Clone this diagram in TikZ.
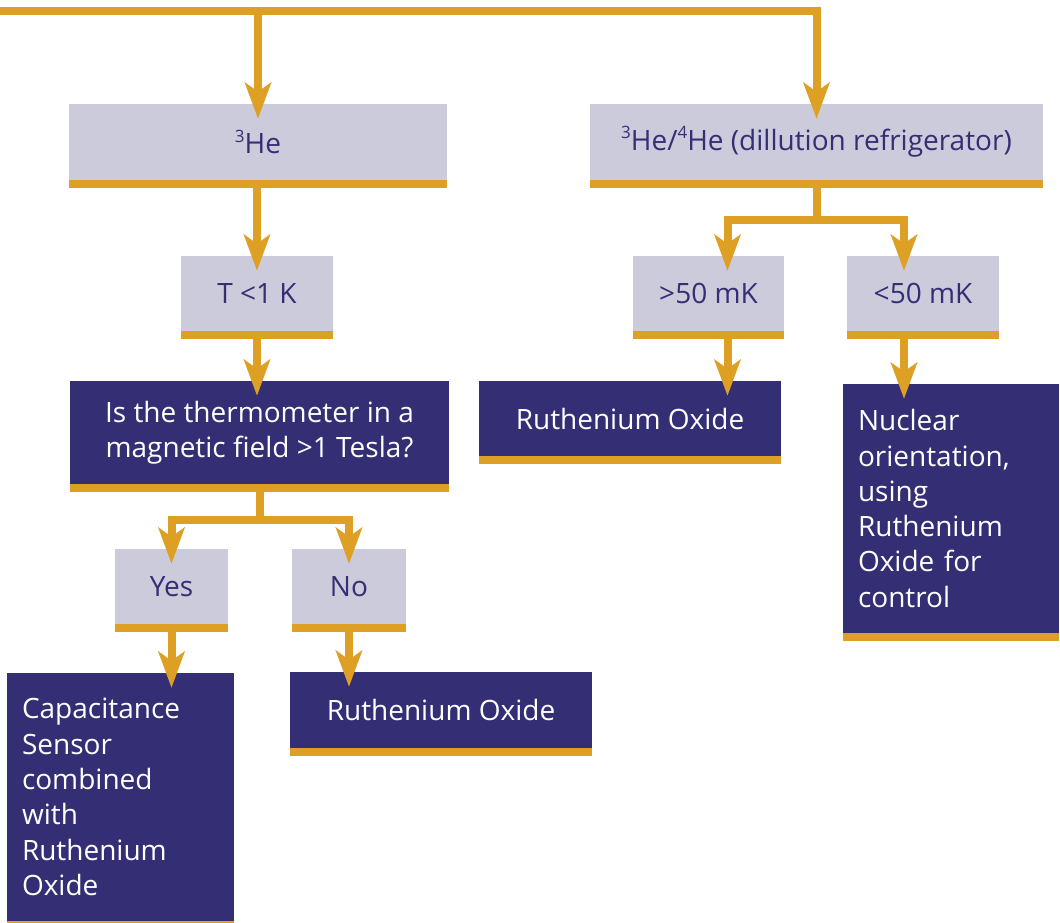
\documentclass[tikz,border=0pt]{standalone}
\usepackage{fontspec}
\setmainfont{Open Sans}
\usetikzlibrary{arrows.meta}
\usetikzlibrary{positioning}
\definecolor{gold}{RGB}{221,160,36}
\definecolor{pale}{RGB}{204,203,220}
\definecolor{ink}{RGB}{52,46,116}
\newcommand{\iso}[1]{\raisebox{0.42em}{\fontsize{17}{17}\selectfont #1}}

\tikzset{
  goldbar/.style={draw=gold, line width=8pt, transform canvas={yshift=-4pt}},
  boxbase/.style={inner sep=0pt, font=\fontsize{28}{35.3}\selectfont, align=center,
    append after command={(\tikzlastnode.south west) edge[goldbar] (\tikzlastnode.south east)}},
  palebox/.style={boxbase, fill=pale, text=ink},
  darkbox/.style={boxbase, fill=ink, text=white},
  wire/.style={draw=gold, line width=8pt},
  flow/.style={wire, -{Stealth[length=36pt,width=26pt,inset=9pt]}, shorten >=-15pt},
}

\begin{document}
\begin{tikzpicture}[x=1pt,y=1pt,yscale=-1,xscale=1]
\useasboundingbox (0,0) rectangle (1060,923);

% Text Node
\node[palebox, minimum width=378pt, minimum height=76pt] (he3) at (258,142) {\iso{3}He};
% Text Node
\node[palebox, minimum width=453pt, minimum height=76pt] (dil) at (816.5,142) {\iso{3}He/\iso{4}He (dillution refrigerator)};
% Text Node
\node[palebox, minimum width=152pt, minimum height=75pt] (tk) at (257,293.5) {T <1 K};
% Text Node
\node[palebox, minimum width=151pt, minimum height=75pt] (gt) at (708.5,293.5) {>50 mK};
% Text Node
\node[palebox, minimum width=152pt, minimum height=75pt] (lt) at (923,293.5) {<50 mK};
% Text Node
\node[darkbox, minimum width=379pt, minimum height=103pt] (quest) at (259.5,432.5) {Is the thermometer in a\\magnetic field >1 Tesla?};
% Text Node
\node[darkbox, minimum width=302pt, minimum height=75pt] (ruR) at (630,418.5) {Ruthenium Oxide};
% Text Node
\node[darkbox, text width=186pt, minimum height=249pt, inner xsep=15pt, align=left] (nuc) at (951,508.5) {Nuclear\\orientation,\\using\\Ruthenium\\Oxide for\\control};
% Text Node
\node[palebox, minimum width=113pt, minimum height=75pt] (yes) at (171.5,586.5) {Yes};
% Text Node
\node[palebox, minimum width=114pt, minimum height=75pt] (no) at (349,586.5) {No};
% Text Node
\node[darkbox, text width=197pt, minimum height=248pt, inner xsep=15pt, align=left] (cap) at (120.5,797) {Capacitance\\Sensor\\combined\\with\\Ruthenium\\Oxide};
% Text Node
\node[darkbox, minimum width=302pt, minimum height=76pt] (ruL) at (441,710) {Ruthenium Oxide};

\coordinate (tl) at (0,11.5);
\coordinate (dsplit) at (816.5,220);
\coordinate (qsplit) at (259.5,519.5);

%Straight Lines
\draw[flow] (tl) -| (dil.north);
\draw[flow] (he3.north |- tl) -- (he3.north);
\draw[flow] (he3.south -| tk.north) -- (tk.north);
\draw[flow] (tk.south) -- (tk.south |- quest.north);
%Straight Lines
\draw[wire] (quest.south) -- (qsplit);
\draw[flow] (qsplit) -| (yes.north);
\draw[flow] (qsplit) -| (no.north);
\draw[flow] (yes.south) -- (yes.south |- cap.north);
\draw[flow] (no.south) -- (no.south |- ruL.north);
%Straight Lines
\draw[wire] (dil.south) -- (dsplit);
\draw[flow] (dsplit) -| ([xshift=19pt]gt.north);
\draw[flow] (dsplit) -| ([xshift=-19pt]lt.north);
\draw[flow] ([xshift=19pt]gt.south) -- ([xshift=19pt]gt.south |- ruR.north);
\draw[flow] ([xshift=-19pt]lt.south) -- ([xshift=-19pt]lt.south |- nuc.north);

\end{tikzpicture}
\end{document}
